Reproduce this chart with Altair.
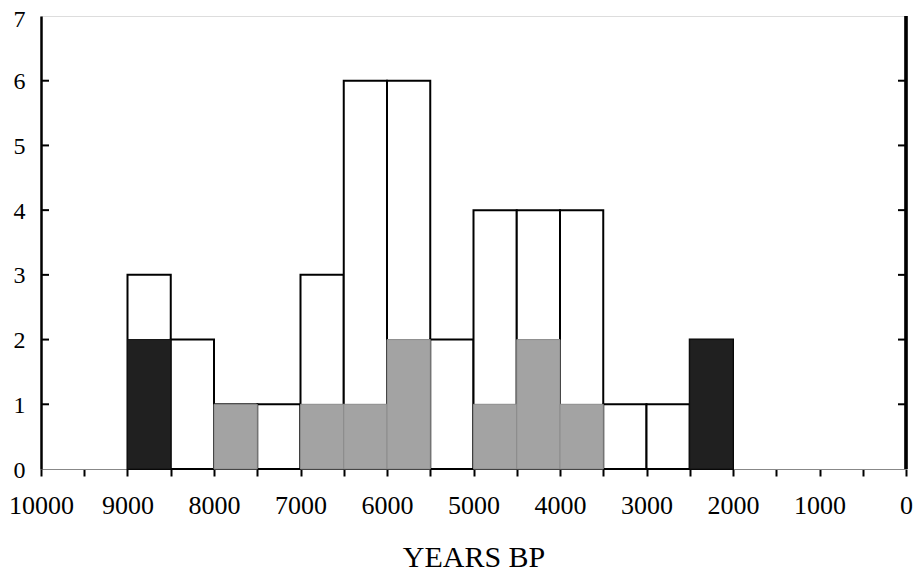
import altair as alt
import pandas as pd

# 500-year bins: older edge (left) and younger edge (right)
total_old = [9000, 8500, 8000, 7500, 7000, 6500, 6000, 5500, 5000, 4500, 4000, 3500, 3000, 2500]
total_cnt = [3, 2, 1, 1, 3, 6, 6, 2, 4, 4, 4, 1, 1, 2]

gray_old = [8000, 7000, 6500, 6000, 5000, 4500, 4000]
gray_cnt = [1, 1, 1, 2, 1, 2, 1]

dark_old = [9000, 2500]
dark_cnt = [2, 2]

y_ticks = [1, 2, 3, 4, 5, 6]
x_ticks = list(range(10000, -1, -500))
BIN = 500

W, H = 865, 453
FONT = "Liberation Serif, Times New Roman, serif"

tot = pd.DataFrame({"old": total_old, "n": total_cnt})
tot["young"] = tot["old"] - BIN
gry = pd.DataFrame({"old": gray_old, "n": gray_cnt})
gry["young"] = gry["old"] - BIN
drk = pd.DataFrame({"old": dark_old, "n": dark_cnt})
drk["young"] = drk["old"] - BIN
ytk = pd.DataFrame({"v": y_ticks})

xscale = alt.Scale(domain=[10000, 0], nice=False, zero=False)
yscale = alt.Scale(domain=[0, 7], nice=False)

x_axis = alt.Axis(
    values=x_ticks, format="d",
    labelExpr="datum.value % 1000 == 0 ? datum.label : ''",
    title="YEARS BP", titleFont=FONT, titleFontSize=30, titleFontWeight="normal",
    titleColor="black", titleBaseline="alphabetic", titleY=97,
    labelFont=FONT, labelFontSize=26, labelColor="black", labelPadding=16,
    tickColor="black", tickWidth=2, tickSize=7,
    domainColor="#888888", domainWidth=1, grid=False, labelFlush=False,
)
y_axis = alt.Axis(
    values=[0, 1, 2, 3, 4, 5, 6, 7], format="d", title=None,
    labelFont=FONT, labelFontSize=24, labelColor="black", labelPadding=16,
    labelOffset={"condition": {"test": "datum.value == 7", "value": 3}, "value": 1},
    ticks=False, domainColor="black", domainWidth=2.5, grid=False,
)

white = alt.Chart(tot).mark_bar(fill="white", stroke="black", strokeWidth=2).encode(
    x=alt.X("old:Q", scale=xscale, axis=x_axis),
    x2="young:Q",
    y=alt.Y("n:Q", scale=yscale, axis=y_axis),
    y2=alt.datum(0),
)
gray = alt.Chart(gry).mark_bar(fill="#a3a3a3", stroke="#8c8c8c", strokeWidth=1).encode(
    x=alt.X("old:Q", scale=xscale), x2="young:Q",
    y=alt.Y("n:Q", scale=yscale), y2=alt.datum(0),
)
dark = alt.Chart(drk).mark_bar(fill="#202020", stroke="#111111", strokeWidth=1).encode(
    x=alt.X("old:Q", scale=xscale), x2="young:Q",
    y=alt.Y("n:Q", scale=yscale), y2=alt.datum(0),
)
left_ticks = alt.Chart(ytk).mark_rule(color="black", strokeWidth=2).encode(
    y=alt.Y("v:Q", scale=yscale), x=alt.value(0), x2=alt.value(8)
)
right_ticks = alt.Chart(ytk).mark_rule(color="black", strokeWidth=2).encode(
    y=alt.Y("v:Q", scale=yscale), x=alt.value(W - 8), x2=alt.value(W)
)
right_line = alt.Chart(ytk).mark_rule(color="black", strokeWidth=2.5).encode(
    x=alt.value(W), y=alt.value(0), y2=alt.value(H)
)

chart = alt.layer(white, gray, dark, left_ticks, right_ticks, right_line).properties(
    width=W, height=H,
    autosize=alt.AutoSizeParams(type="none"),
    padding={"left": 33, "top": 8, "right": 7, "bottom": 102},
).configure_view(stroke="#999999", strokeWidth=1).configure(background="white")

chart.save("out.html", embed_options={"renderer": "svg", "actions": False})
